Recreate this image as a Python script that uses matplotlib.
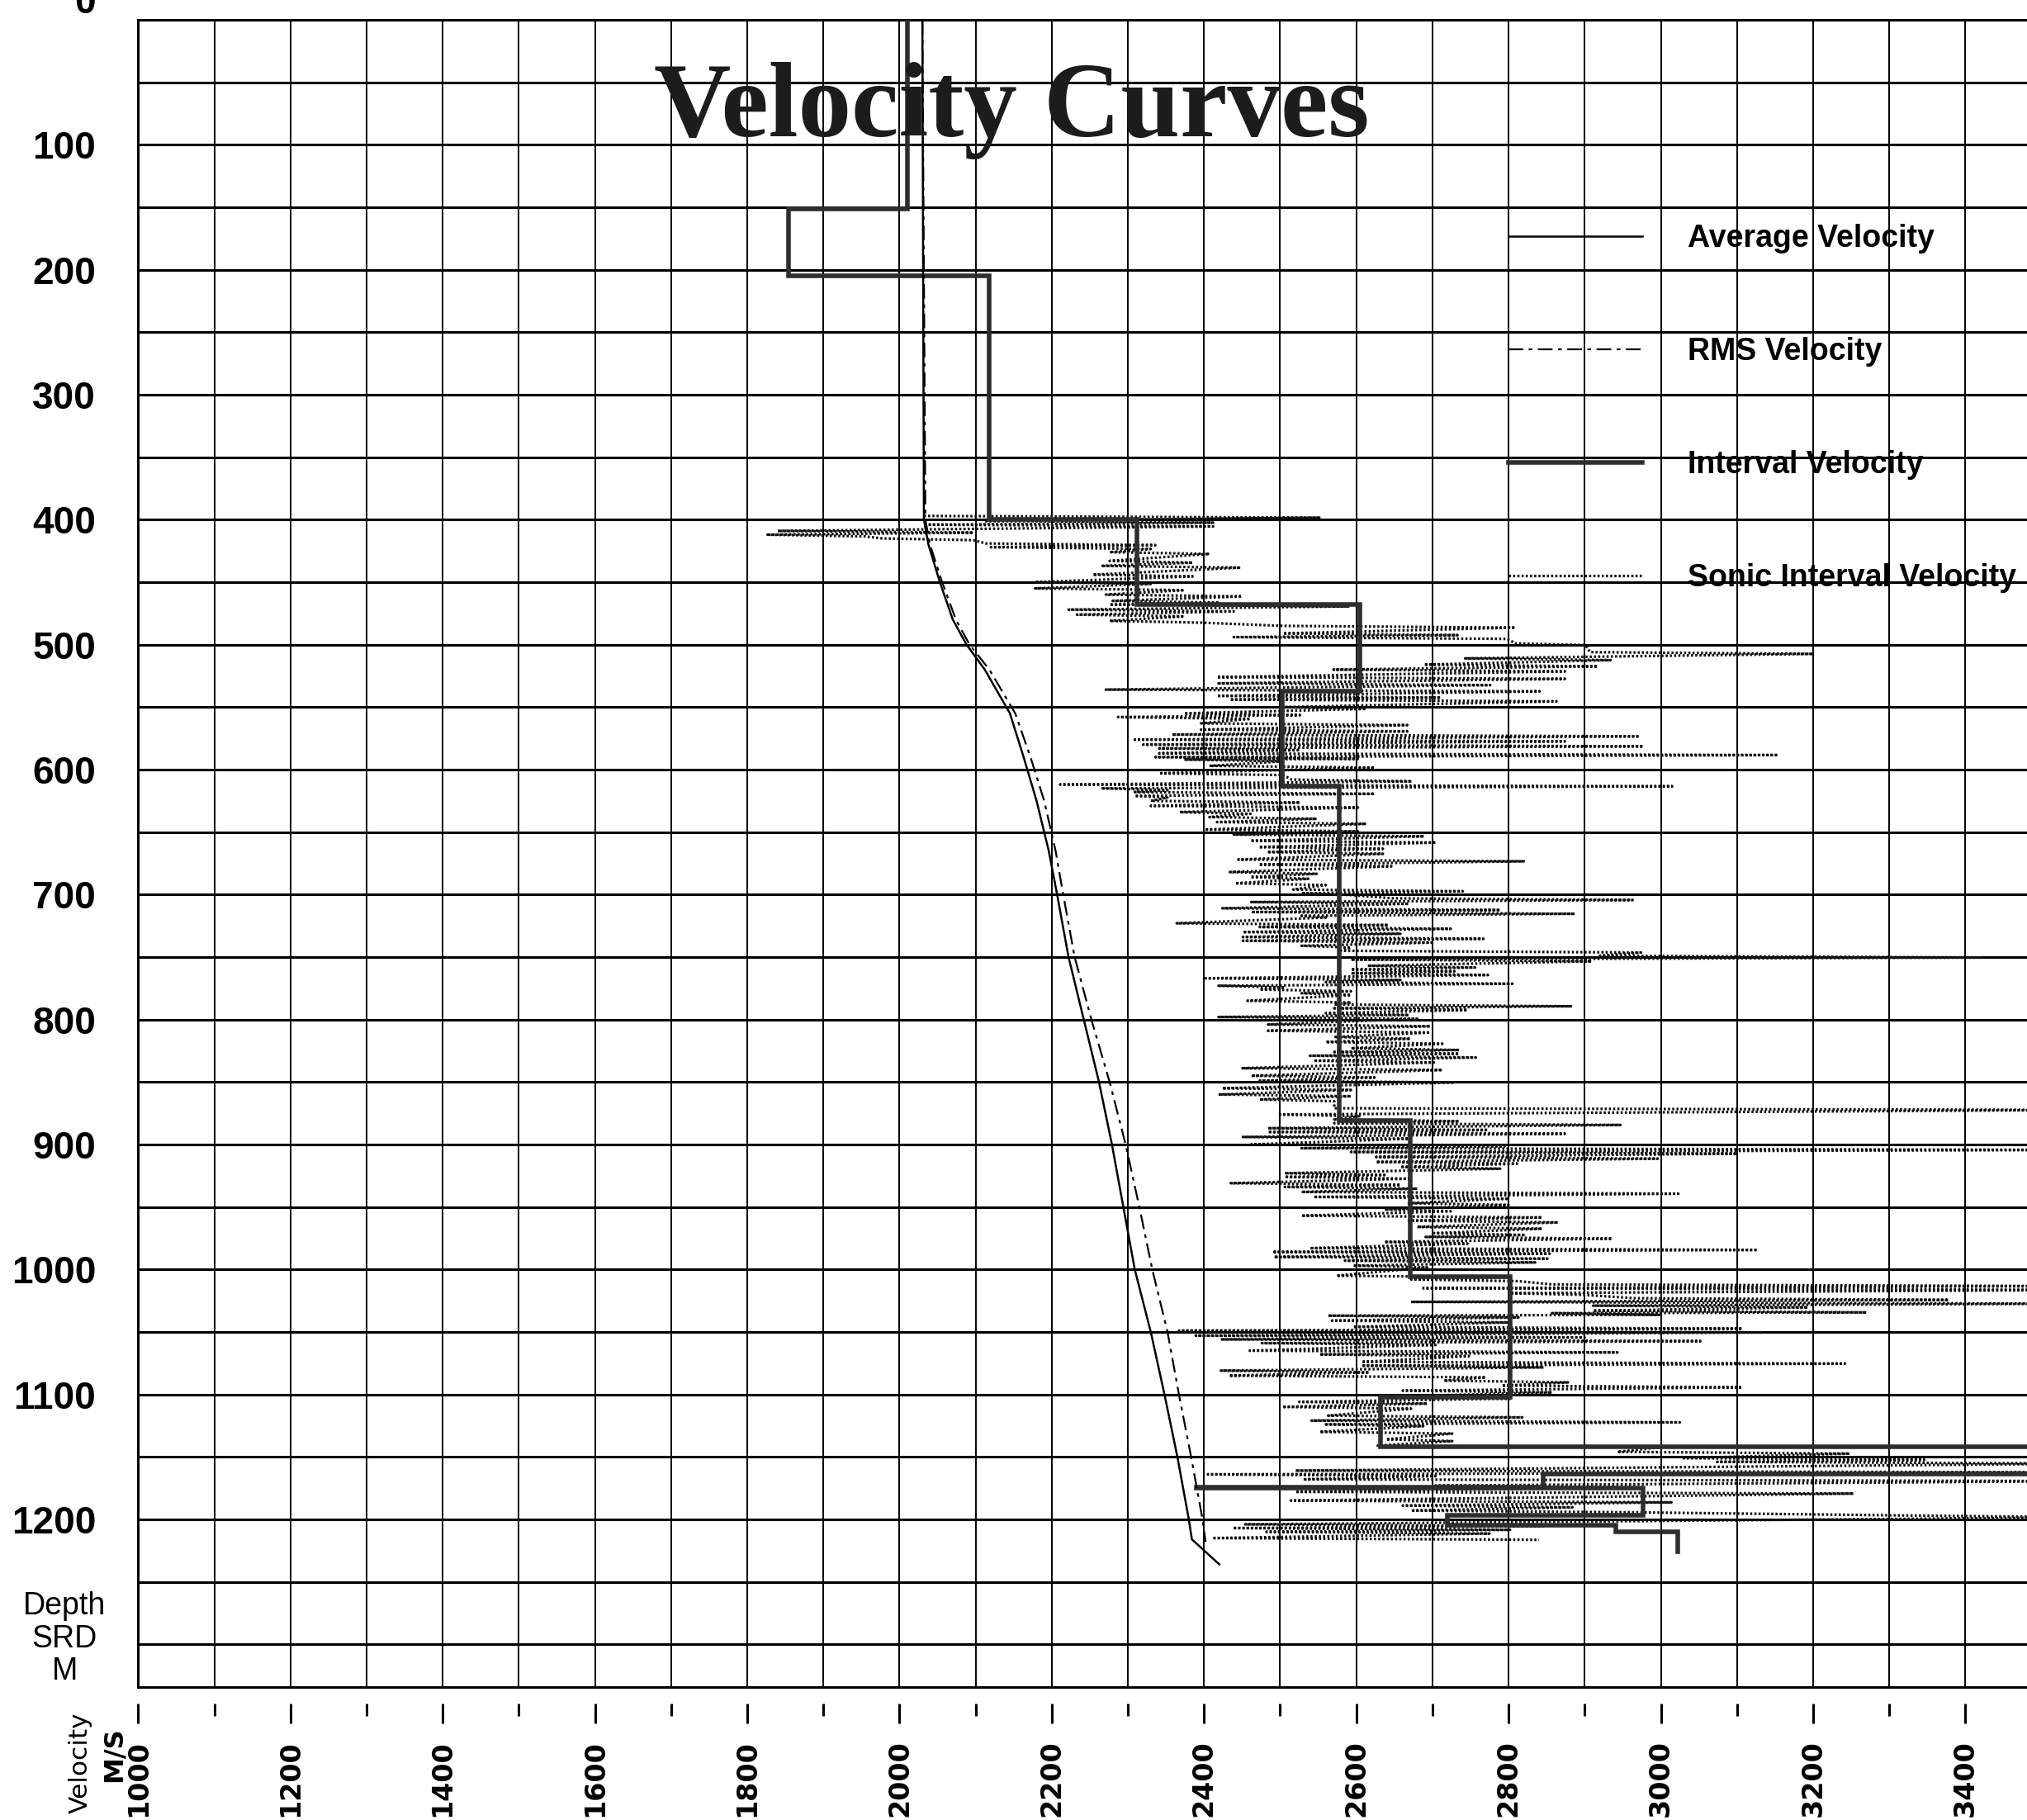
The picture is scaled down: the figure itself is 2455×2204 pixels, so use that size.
import numpy as np
import matplotlib
matplotlib.use("Agg")
import matplotlib.pyplot as plt

plt.rcParams['font.family'] = ['Liberation Sans', 'DejaVu Sans']

# ---------------- data ----------------
depth_labels = [100, 200, 300, 400, 500, 600, 700, 800, 900, 1000, 1100, 1200]
velocity_labels = [1000, 1200, 1400, 1600, 1800, 2000, 2200, 2400, 2600, 2800, 3000, 3200, 3400]

# Interval velocity: layer boundaries (m) and layer velocity (m/s)
interval_bounds = [0, 151, 205, 400, 468, 537, 613, 881, 1006, 1102, 1142, 1164,
                   1174, 1175, 1197, 1205, 1210, 1226]
interval_vel = [2010, 1854, 2118, 2312, 2605, 2503, 2578, 2671, 2802, 2632, 3600,
                2845, 2390, 2977, 2720, 2941, 3022]

# Average velocity
avg_depth = [0, 400, 420, 450, 480, 500, 520, 555, 590, 625, 665, 700, 750, 800, 850,
             900, 950, 1000, 1050, 1100, 1150, 1200, 1216, 1236]
avg_vel = [2030, 2032, 2038, 2053, 2070, 2088, 2112, 2145, 2163, 2180, 2196, 2207, 2222,
           2242, 2262, 2279, 2294, 2309, 2330, 2348, 2365, 2380, 2384, 2420]

# RMS velocity
rms_depth = [0, 400, 420, 450, 480, 500, 520, 555, 590, 625, 665, 700, 750, 800, 850,
             900, 950, 1000, 1050, 1100, 1150, 1200, 1218]
rms_vel = [2030, 2034, 2040, 2056, 2074, 2092, 2118, 2152, 2172, 2190, 2205, 2215, 2230,
           2252, 2276, 2297, 2315, 2332, 2352, 2367, 2383, 2398, 2402]

# Sonic interval velocity: depth, low and high swing of the log at that depth
sonic_depth = [397, 401, 404, 409, 412, 415, 419, 422, 426, 433, 437, 444, 450, 455, 460,
               465, 468, 472, 476, 481, 485, 491, 494, 499, 506, 511, 516, 520, 526, 531,
               536, 541, 544, 550, 555, 558, 563, 568, 572, 576, 580, 583, 587, 590, 592,
               597, 603, 608, 612, 615, 618, 621, 625, 629, 634, 638, 642, 648, 652, 657,
               662, 666, 672, 676, 682, 686,
               691, 696, 699, 703, 706, 711, 714, 717, 723, 726, 730, 734, 737, 741, 745,
               749, 752, 757, 760, 763, 767, 770, 773, 776, 779, 785, 788, 791, 795, 798,
               804, 809, 814, 818, 823, 826, 829, 833, 839, 845, 849, 855, 860, 864, 871,
               876, 880, 883, 887, 890, 894, 900, 903, 906, 910, 914, 918, 923, 926, 931,
               934, 938, 942, 947, 952, 957, 961, 966, 971, 974, 978, 983, 986,
               990, 993, 997, 1005, 1008, 1012, 1015, 1019, 1023, 1026, 1029, 1033, 1035,
               1037, 1041, 1046, 1049, 1053, 1056, 1059, 1065, 1068, 1074, 1077, 1081,
               1085, 1089, 1093, 1097, 1102, 1106, 1110, 1117, 1121, 1124, 1130, 1136,
               1141, 1146, 1151, 1154, 1161, 1164, 1168, 1173, 1178, 1185, 1189, 1193,
               1197, 1204, 1207, 1210, 1215]
sonic_low = [2032, 2111, 2037, 1840, 1825, 1977, 2113, 2120, 2276, 2276, 2265, 2254, 2178,
             2178, 2271, 2280, 2276, 2222, 2233, 2276, 2504, 2504, 2439, 2809, 2907, 2743,
             2689, 2570, 2417, 2417, 2271, 2417, 2434, 2504, 2374, 2287, 2396, 2396, 2358,
             2309, 2320, 2341, 2341, 2336, 2374, 2407, 2341, 2515, 2211, 2265, 2309, 2309,
             2330, 2330, 2368, 2407, 2417, 2401, 2439, 2461, 2472, 2483, 2445, 2472, 2434,
             2461,
             2441, 2517, 2528, 2647, 2462, 2424, 2462, 2528, 2364, 2473, 2451, 2451, 2451,
             2528, 2577, 2920, 2593, 2615, 2593, 2593, 2402, 2560, 2419, 2473, 2528, 2457,
             2571, 2571, 2560, 2419, 2484, 2484, 2571, 2560, 2593, 2571, 2539, 2544, 2449,
             2462, 2473, 2424, 2419, 2473, 2571, 2497, 2571, 2571, 2484, 2484, 2451, 2462,
             2528, 2593, 2626, 2626, 2658, 2506, 2506, 2435, 2506, 2528, 2544, 2669, 2637,
             2528, 2669, 2680, 2702, 2691, 2637, 2539, 2490,
             2492, 2585, 2596, 2574, 2672, 2857, 2688, 2802, 2965, 2672, 2911, 2911, 2857,
             2563, 2568, 2596, 2367, 2389, 2422, 2476, 2460, 2552, 2607, 2607, 2422, 2433,
             2715, 2791, 2661, 2628, 2525, 2503, 2563, 2541, 2558, 2552, 2639, 2628, 2943,
             3030, 3074, 2520, 2405, 2530, 2704, 2520, 2514, 2661, 2672, 3335, 2454, 2438,
             2482, 2411]
sonic_high = [2553, 2412, 2412, 2097, 1955, 2097, 2336, 2330, 2407, 2385, 2448, 2385, 2330,
              2374, 2450, 2420, 2591, 2439, 2374, 2396, 2809, 2733, 2798, 2901, 3200, 2934,
              2917, 2874, 2874, 2776, 2841, 2711, 2863, 2613, 2526, 2461, 2667, 2667, 2972,
              2874, 2977, 2526, 3154, 2602, 2504, 2624, 2504, 2673, 3015, 2352, 2624, 2352,
              2526, 2602, 2461, 2548, 2613, 2602, 2689, 2705, 2635, 2635, 2820, 2646, 2548,
              2537,
              2560, 2740, 2593, 2963, 2669, 2789, 2887, 2560, 2642, 2724, 2658, 2767, 2702,
              2593, 2974, 3421, 2909, 2756, 2729, 2773, 2658, 2805, 2506, 2593, 2593, 2593,
              2882, 2746, 2669, 2680, 2697, 2697, 2671, 2713, 2735, 2735, 2757, 2702, 2713,
              2624, 2729, 2593, 2593, 2571, 3560, 2604, 2735, 2947, 2773, 2874, 2669, 2795,
              3560, 3100, 2996, 2811, 2789, 2637, 2669, 2658, 2680, 3023, 2800, 2800, 2724,
              2844, 2865, 2844, 2822, 2936, 2746, 3127, 2854,
              2851, 2835, 2693, 2802, 2813, 3560, 3560, 2900, 3378, 3560, 3193, 3270, 2998,
              2813, 2802, 3107, 3134, 2900, 3052, 2704, 2943, 2748, 3242, 2846, 2617, 2770,
              2878, 3107, 2857, 2802, 2693, 2672, 2818, 3025, 2688, 2726, 2726, 2998, 3248,
              3346, 3560, 3560, 2704, 3560, 2965, 3253, 3014, 2884, 2965, 3560, 2846, 2802,
              2775, 2840]

# ---------------- figure ----------------
fig = plt.figure(figsize=(24.55, 22.04), dpi=100)
ax = fig.add_axes([0.0682, 0.0732, 0.9318, 0.9159])
ax.set_xlim(1000, 3481)
ax.set_ylim(1334, 0)

# grid
ax.set_xticks(np.arange(1000, 3481, 100))
ax.set_yticks(np.arange(0, 1301, 100),
              [''] + [str(v) for v in depth_labels] + [''])
ax.set_yticks(np.arange(50, 1301, 100), minor=True)
ax.xaxis.grid(True, which='major', color='black', lw=1.4)
ax.yaxis.grid(True, which='both', color='black', lw=2.2)
ax.tick_params(axis='x', which='both', length=0, labelbottom=False)
ax.tick_params(axis='y', which='both', length=0, pad=37)
for lab in ax.get_yticklabels():
    lab.set_fontsize(33)
    lab.set_fontweight('bold')
for s in ['left', 'top', 'bottom']:
    ax.spines[s].set_linewidth(2.2)
ax.spines['right'].set_visible(False)
ax.set_axisbelow(True)

# partially visible "0" (cut by the top edge as in the scan)
ax.text(-0.0225, -13, '0', transform=ax.get_yaxis_transform(), ha='right', va='center',
        fontsize=33, fontweight='bold', clip_on=False)

# sonic log (zig-zag between swing values)
sd = np.asarray(sonic_depth, float)
zz_d = np.column_stack([sd, sd + 1.4]).ravel()
zz_v = np.column_stack([sonic_low, sonic_high]).ravel()
l_son, = ax.plot(zz_v, zz_d, color='#111111', lw=2.3, linestyle=(0, (0.8, 0.8)),
                 zorder=3, label='Sonic Interval Velocity')

# interval velocity (step)
ib = np.asarray(interval_bounds, float)
st_d = np.column_stack([ib[:-1], ib[1:]]).ravel()
st_v = np.repeat(interval_vel, 2)
l_int, = ax.plot(st_v, st_d, color='#2e2e2e', lw=4.0, zorder=4,
                 solid_joinstyle='miter', label='Interval Velocity')

# average and RMS
l_avg, = ax.plot(avg_vel, avg_depth, color='black', lw=1.8, zorder=5,
                 label='Average Velocity')
l_rms, = ax.plot(rms_vel, rms_depth, color='black', lw=1.6, zorder=5,
                 linestyle=(0, (8, 3, 2, 3)), label='RMS Velocity')

# title
ax.text(2147, 93, 'Velocity Curves', ha='center', va='baseline', fontsize=93,
        fontweight='bold', family='Liberation Serif', color='#1c1c1c', zorder=6)

# legend
leg = ax.legend(handles=[l_avg, l_rms, l_int, l_son], loc='upper left',
                bbox_to_anchor=(0.7443, 0.8772), bbox_transform=fig.transFigure,
                frameon=False, borderpad=0, borderaxespad=0, handlelength=4.3,
                handletextpad=1.47, labelspacing=2.70,
                prop={'family': 'Liberation Sans', 'weight': 'bold', 'size': 27})

# bottom velocity ticks (floating below the axis)
sec = ax.secondary_xaxis(-0.0099)
sec.set_xticks(velocity_labels, [str(v) for v in velocity_labels], rotation=90)
sec.set_xticks(np.arange(1100, 3481, 200), minor=True)
sec.spines['bottom'].set_visible(False)
sec.tick_params(which='major', length=17, width=2.2, pad=15, direction='out')
sec.tick_params(which='minor', length=11, width=2.2, direction='out')
for lab in sec.get_xticklabels():
    lab.set_fontfamily('DejaVu Sans')
    lab.set_fontweight('bold')
    lab.set_fontsize(24)

# axis captions
for txt, y in [('Depth', 0.1177), ('SRD', 0.0993), ('M', 0.0815)]:
    fig.text(0.0319, y, txt, ha='center', va='center', fontsize=27)
fig.text(0.0395, 0.0315, 'Velocity', rotation=90, ha='center', va='center',
         fontsize=22.5, family='DejaVu Sans')
fig.text(0.0563, 0.036, 'M/S', rotation=90, ha='center', va='center',
         fontsize=23, fontweight='bold', family='DejaVu Sans')

fig.savefig('out.png', dpi=100)
